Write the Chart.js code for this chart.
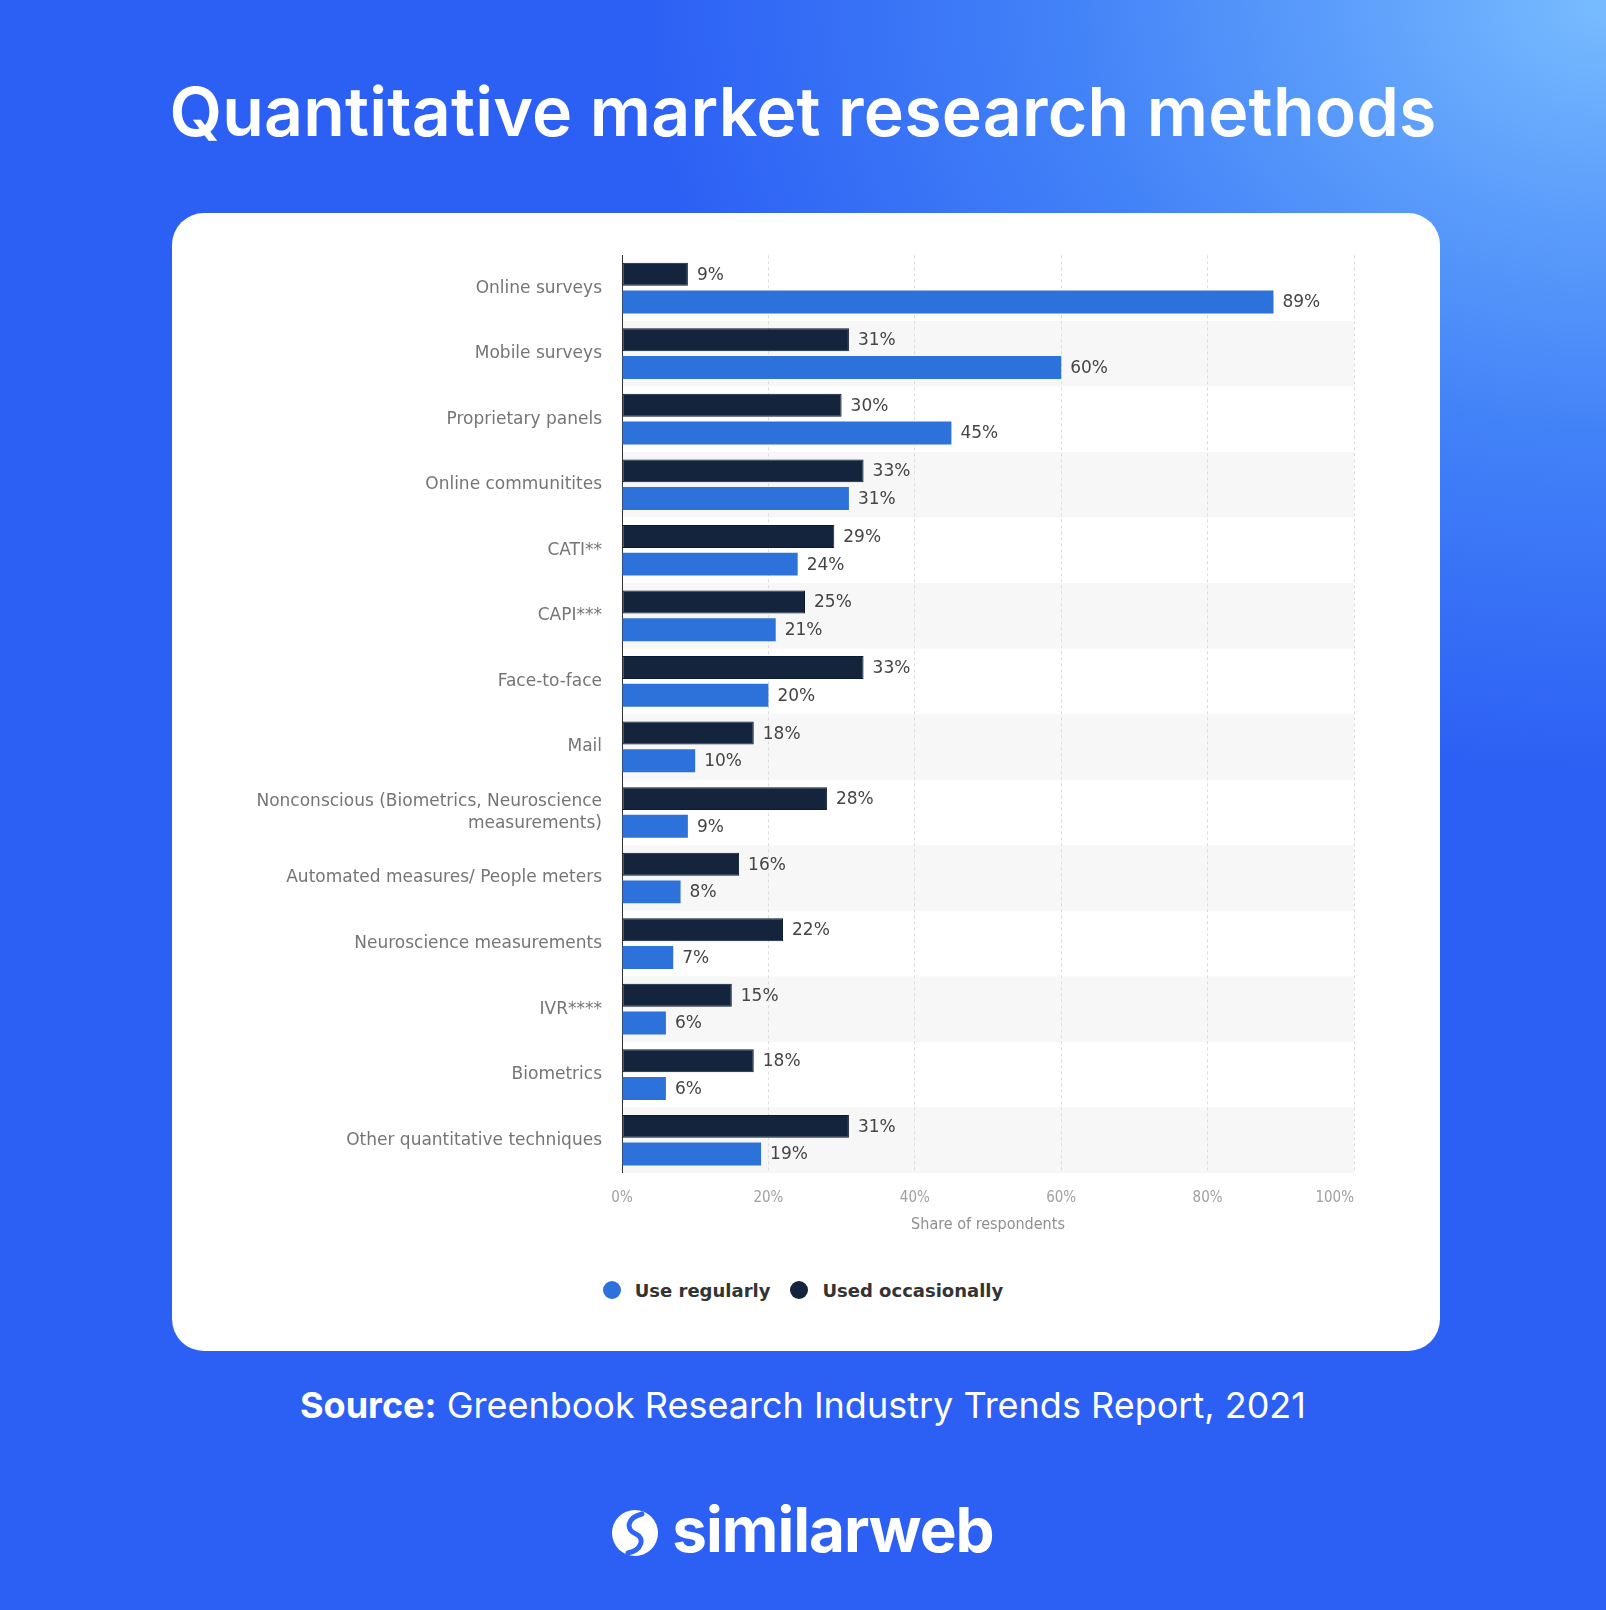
<!DOCTYPE html>
<html>
<head>
<meta charset="utf-8">
<script src="https://cdn.jsdelivr.net/npm/chart.js@4.4.1/dist/chart.umd.min.js"></script>
<style>
  html, body { margin: 0; padding: 0; }
  body {
    width: 1606px; height: 1610px; position: relative; overflow: hidden;
    background:
      radial-gradient(ellipse 75% 60% at 100% 0%, #78bcff 0%, #5c9efb 22%, #4282f8 45%, rgba(46,98,244,0) 80%),
      #2c60f4;
    font-family: Inter, "Open Sans", sans-serif;
  }
  #title {
    position: absolute; left: 0; width: 1606px; top: 70px;
    text-align: center; color: #fff; font-weight: 600; font-size: 68px; letter-spacing: 0.2px;
  }
  #card {
    position: absolute; left: 172px; top: 213px; width: 1268px; height: 1138px;
    background: #fff; border-radius: 32px;
  }
  #chartBox { position: absolute; left: 185px; top: 224px; width: 1240px; height: 1037px; }
  #legend {
    position: absolute; left: 0; width: 1606px; top: 1278px; height: 24px;
    display: flex; justify-content: center; align-items: center;
    font-family: "DejaVu Sans", Verdana, sans-serif; font-weight: bold; font-size: 18px; color: #333;
  }
  #legend .item { display: flex; align-items: center; margin: 0 10px; }
  #legend .dot { width: 18px; height: 18px; border-radius: 50%; margin-right: 14px; }
  #source {
    position: absolute; left: 0; width: 1606px; top: 1383px;
    text-align: center; color: #fff; font-size: 36px;
  }
  #source b { font-weight: 700; }
  #logo {
    position: absolute; left: 0; width: 1606px; top: 1498px; height: 70px;
    display: flex; justify-content: center; align-items: center; gap: 14px;
    color: #fff; font-weight: 700; font-size: 62px; letter-spacing: -1px;
  }
</style>
</head>
<body>
<div id="title">Quantitative market research methods</div>
<div id="card"></div>
<div id="chartBox"><canvas id="chart"></canvas></div>
<div id="legend"></div>
<div id="source"><b>Source:</b> Greenbook Research Industry Trends Report, 2021</div>
<div id="logo">
  <svg width="46" height="46" viewBox="0 0 46 46">
    <circle cx="23" cy="23" r="23" fill="#fff"/>
    <path d="M30 4 C14 8 14 20 24 24 C33 28 30 40 16 43" fill="none" stroke="#2f64f4" stroke-width="5" stroke-linecap="round"/>
  </svg>
  <span style="margin-top:-8px">similarweb</span>
</div>

<script>
const categories = [
  "Online surveys", "Mobile surveys", "Proprietary panels", "Online communitites",
  "CATI**", "CAPI***", "Face-to-face", "Mail",
  ["Nonconscious (Biometrics, Neuroscience", "measurements)"],
  "Automated measures/ People meters", "Neuroscience measurements", "IVR****",
  "Biometrics", "Other quantitative techniques"
];
const usedOccasionally = [9, 31, 30, 33, 29, 25, 33, 18, 28, 16, 22, 15, 18, 31];
const useRegularly = [89, 60, 45, 31, 24, 21, 20, 10, 9, 8, 7, 6, 6, 19];
const xTicks = [0, 20, 40, 60, 80, 100];

const FONT = "'DejaVu Sans', Verdana, sans-serif";
const NARROW = "'DejaVu Sans Condensed', 'Liberation Sans Narrow', 'DejaVu Sans', sans-serif";
const DARK = "#13243c";
const BLUE = "#2d71da";

// light stripes behind every second category
const bandPlugin = {
  id: "bands",
  beforeDraw(chart) {
    const { ctx, chartArea } = chart;
    const y = chart.scales.y;
    const step = y.height / categories.length;
    ctx.save();
    ctx.fillStyle = "#f7f7f7";
    categories.forEach((c, i) => {
      if (i % 2 === 1) {
        const cy = y.getPixelForValue(i);
        ctx.fillRect(chartArea.left, cy - step / 2, chartArea.right - chartArea.left, step);
      }
    });
    ctx.restore();
  }
};

// last x tick label sits inside the plot, right-aligned on its gridline
const lastTickInside = {
  id: "lastTickInside",
  beforeDraw(chart) {
    const x = chart.scales.x;
    const items = x.getLabelItems(chart.chartArea);
    const last = items[items.length - 1];
    if (last) {
      last.options.textAlign = "right";
      last.options.translation[0] = x.right;
    }
  }
};

// value labels at the end of each bar
const valueLabels = {
  id: "valueLabels",
  afterDatasetsDraw(chart) {
    const { ctx } = chart;
    ctx.save();
    ctx.font = "17px " + FONT;
    ctx.fillStyle = "#454545";
    ctx.textBaseline = "middle";
    ctx.textAlign = "left";
    chart.data.datasets.forEach((ds, di) => {
      chart.getDatasetMeta(di).data.forEach((bar, i) => {
        ctx.fillText(ds.data[i] + "%", bar.x + 9, bar.y + 1);
      });
    });
    ctx.restore();
  }
};

const chart = new Chart(document.getElementById("chart"), {
  type: "bar",
  data: {
    labels: categories,
    datasets: [
      {
        label: "Used occasionally",
        data: usedOccasionally,
        backgroundColor: DARK,
        borderColor: "#0b1a2e",
        borderWidth: 1,
        borderSkipped: false,
        categoryPercentage: 0.845,
        barPercentage: 0.83
      },
      {
        label: "Use regularly",
        data: useRegularly,
        backgroundColor: BLUE,
        borderWidth: 0,
        categoryPercentage: 0.845,
        barPercentage: 0.83
      }
    ]
  },
  options: {
    indexAxis: "y",
    responsive: true,
    maintainAspectRatio: false,
    animation: false,
    layout: { padding: { top: 0, right: 71, left: 0, bottom: 0 } },
    scales: {
      x: {
        min: 0,
        max: 100,
        afterBuildTicks(scale) { scale.ticks = xTicks.map(v => ({ value: v })); },
        afterFit(scale) { scale.height = 88; },
        grid: { color: "#dcdcdc", lineWidth: 1, drawTicks: false },
        border: { display: false, dash: [3, 3] },
        ticks: {
          padding: 16,
          color: "#a0a0a0",
          font: { family: NARROW, size: 15 },
          callback: v => v + "%"
        },
        title: {
          display: true,
          text: "Share of respondents",
          color: "#8f8f8f",
          font: { family: NARROW, size: 16 },
          padding: { top: 0, bottom: 27 }
        }
      },
      y: {
        afterFit(scale) { scale.width = 437; },
        grid: { display: false, drawTicks: false },
        border: { display: true, color: "#333", width: 1 },
        ticks: {
          padding: 20,
          color: "#757575",
          font: { family: FONT, size: 17, lineHeight: 1.33 }
        }
      }
    },
    plugins: {
      legend: { display: false },
      tooltip: { enabled: false }
    }
  },
  plugins: [bandPlugin, lastTickInside, valueLabels]
});

// legend (Use regularly first, as in the original)
const legendEl = document.getElementById("legend");
[...chart.data.datasets].reverse().forEach(ds => {
  const item = document.createElement("div");
  item.className = "item";
  const dot = document.createElement("span");
  dot.className = "dot";
  dot.style.background = ds.backgroundColor;
  const txt = document.createElement("span");
  txt.textContent = ds.label;
  item.appendChild(dot);
  item.appendChild(txt);
  legendEl.appendChild(item);
});
</script>
</body>
</html>
